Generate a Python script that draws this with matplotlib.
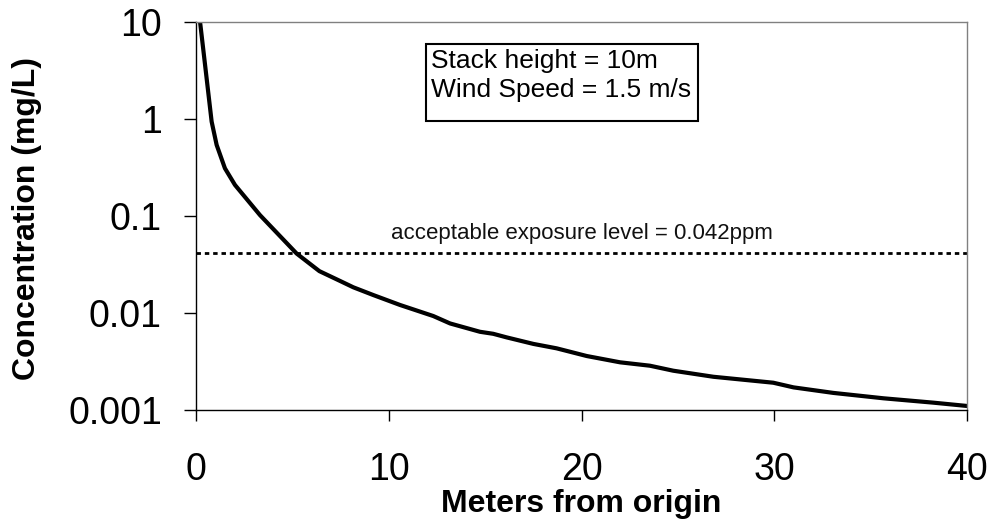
#
# Imports
#
from matplotlib import pyplot as plt
from matplotlib.patches import Rectangle

#
# Data
#
distance = [0.21, 0.47, 0.81, 1.07, 1.5, 2.02, 3.32, 5.22, 6.4, 7.47, 8.16,
            9.2, 10.58, 12.31, 13.18, 14.73, 15.42, 16.12, 17.5, 18.71, 20.27,
            22.0, 23.55, 24.76, 26.84, 29.95, 31.0, 33.06, 35.66, 38.25, 40.0]
concentration = [10, 3.6, 0.94, 0.54, 0.31, 0.209, 0.102, 0.041, 0.027, 0.0214,
                 0.0184, 0.0153, 0.0121, 0.0093, 0.0078, 0.0064, 0.0061, 0.0056,
                 0.0048, 0.00432, 0.0036, 0.0031, 0.00286, 0.00254, 0.0022,
                 0.00191, 0.00171, 0.0015, 0.00132, 0.00119, 0.0011]
exposure_level = 0.042
x_ticks = [0, 10, 20, 30, 40]
y_ticks = [0.001, 0.01, 0.1, 1, 10]
y_tick_labels = ['0.001', '0.01', '0.1', '1', '10']
box_lines = ['Stack height = 10m', 'Wind Speed = 1.5 m/s']

#
# main
#
if __name__ == "__main__":
    plt.rcParams['font.family'] = ['Liberation Sans', 'DejaVu Sans']

    fig = plt.figure(figsize=(9.92, 5.22), dpi=100)
    ax = fig.add_axes([0.1976, 0.2146, 0.7772, 0.7433])

    # concentration curve
    ax.plot(distance, concentration, color='black', linewidth=3,
            solid_joinstyle='round')
    # exposure limit
    ax.plot([0, 40], [exposure_level, exposure_level], color='black',
            linewidth=2, dashes=(1.6, 1.4))
    ax.text(20, 0.052, 'acceptable exposure level = 0.042ppm',
            ha='center', va='bottom', fontsize=16, color='#111111')

    ax.set_yscale('log')
    ax.set_xlim(0, 40)
    ax.set_ylim(0.001, 10)
    ax.set_xticks(x_ticks)
    ax.set_yticks(y_ticks)
    ax.set_yticklabels(y_tick_labels)
    ax.minorticks_off()
    ax.tick_params(axis='x', direction='out', length=8, width=1,
                   labelsize=27, pad=22)
    ax.tick_params(axis='y', direction='out', length=8.5, width=1,
                   labelsize=27, pad=16)

    for side in ['top', 'right']:
        ax.spines[side].set_color('#808080')
    for side in ['left', 'bottom']:
        ax.spines[side].set_color('black')
    for s in ax.spines.values():
        s.set_linewidth(1)

    # info box
    ax.add_patch(Rectangle((0.2983, 0.7448), 0.3528, 0.1985,
                           transform=ax.transAxes, fill=False,
                           edgecolor='black', linewidth=1.5))
    ax.text(0.3048, 0.8814, box_lines[0], transform=ax.transAxes,
            fontsize=19, va='baseline', ha='left')
    ax.text(0.3048, 0.8067, box_lines[1], transform=ax.transAxes,
            fontsize=19, va='baseline', ha='left')

    # axis titles
    fig.text(581 / 992, 1 - 504 / 522, 'Meters from origin',
             ha='center', va='center', fontsize=23, fontweight='bold')
    fig.text(27 / 992, 1 - 218 / 522, 'Concentration (mg/L)', rotation=90,
             ha='center', va='center', fontsize=23, fontweight='bold')

    fig.savefig('out.png', dpi=100)
